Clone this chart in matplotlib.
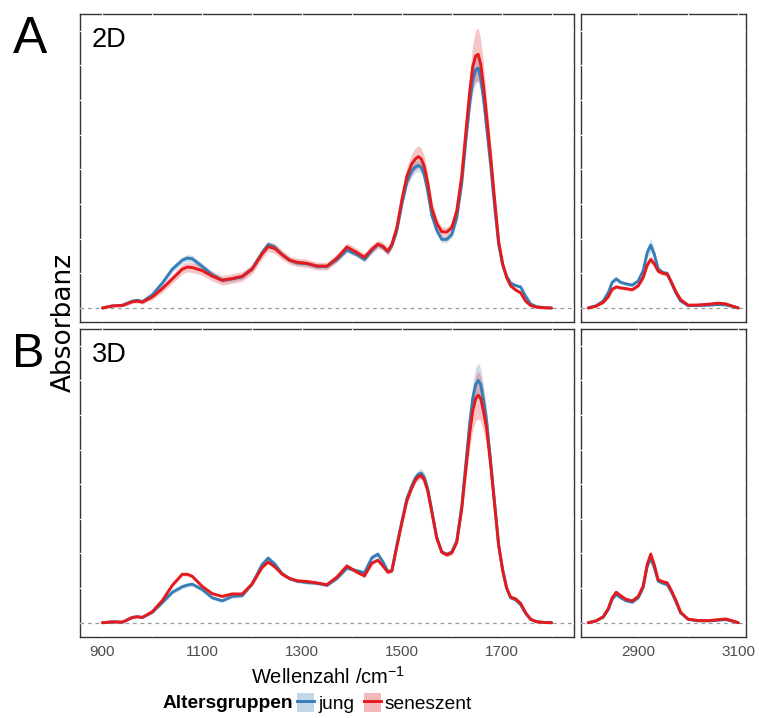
#!/usr/bin/env python3
"""FTIR mean spectra (2D vs 3D culture) for two age groups, with SD ribbons."""

import matplotlib
matplotlib.use("Agg")
import matplotlib.pyplot as plt
from matplotlib.patches import Patch
from matplotlib.lines import Line2D
from matplotlib.legend_handler import HandlerTuple
import numpy as np

# ---------------------------------------------------------------------------
# Data (absorbance, arbitrary units)
# ---------------------------------------------------------------------------

X_FP = [900, 920, 940, 960, 970, 980, 1000, 1020, 1040, 1060,
        1070, 1080, 1100, 1120, 1140, 1160, 1180, 1200, 1220, 1232,
        1245, 1260, 1275, 1290, 1310, 1330, 1350, 1370, 1390, 1410,
        1425, 1440, 1452, 1462, 1472, 1480, 1490, 1500, 1510, 1520,
        1527, 1533, 1539, 1545, 1552, 1560, 1570, 1580, 1590, 1600,
        1610, 1620, 1628, 1636, 1642, 1648, 1653, 1658, 1664, 1670,
        1678, 1686, 1694, 1702, 1710, 1718, 1728, 1738, 1748, 1758,
        1770, 1785, 1800]

X_CH = [2800, 2815, 2830, 2840, 2848, 2856, 2865, 2875, 2888, 2900,
        2910, 2918, 2925, 2932, 2940, 2950, 2958, 2966, 2975, 2985,
        3000, 3020, 3040, 3060, 3075, 3090, 3100]

# --- 2D, fingerprint region
jung_2d_fp = [0.000, 0.015, 0.020, 0.050, 0.056, 0.046, 0.095, 0.180, 0.280, 0.345,
              0.360, 0.355, 0.300, 0.240, 0.200, 0.210, 0.225, 0.285, 0.400, 0.458,
              0.440, 0.385, 0.345, 0.325, 0.320, 0.300, 0.300, 0.350, 0.418, 0.385,
              0.350, 0.415, 0.460, 0.440, 0.405, 0.450, 0.560, 0.750, 0.910, 0.990,
              1.018, 1.028, 1.015, 0.960, 0.840, 0.670, 0.560, 0.495, 0.495, 0.530,
              0.650, 0.900, 1.200, 1.480, 1.640, 1.720, 1.730, 1.660, 1.500, 1.300,
              1.030, 0.730, 0.460, 0.310, 0.230, 0.180, 0.162, 0.152, 0.085, 0.030,
              0.009, 0.002, 0.000]
jung_2d_fp_sd = [0.000, 0.004, 0.005, 0.008, 0.008, 0.008, 0.012, 0.018, 0.022, 0.025,
                 0.025, 0.025, 0.022, 0.020, 0.018, 0.018, 0.018, 0.020, 0.022, 0.022,
                 0.020, 0.018, 0.016, 0.016, 0.016, 0.016, 0.016, 0.016, 0.018, 0.016,
                 0.016, 0.018, 0.020, 0.020, 0.018, 0.020, 0.025, 0.032, 0.038, 0.040,
                 0.042, 0.042, 0.042, 0.040, 0.036, 0.030, 0.025, 0.022, 0.022, 0.024,
                 0.030, 0.045, 0.065, 0.080, 0.092, 0.100, 0.100, 0.095, 0.085, 0.072,
                 0.055, 0.040, 0.025, 0.015, 0.012, 0.010, 0.010, 0.010, 0.006, 0.003,
                 0.002, 0.001, 0.000]
sen_2d_fp = [0.000, 0.015, 0.018, 0.045, 0.050, 0.042, 0.080, 0.140, 0.210, 0.280,
             0.295, 0.292, 0.270, 0.230, 0.200, 0.212, 0.228, 0.280, 0.390, 0.443,
             0.430, 0.385, 0.345, 0.330, 0.322, 0.303, 0.302, 0.360, 0.440, 0.400,
             0.365, 0.425, 0.460, 0.445, 0.410, 0.460, 0.580, 0.780, 0.950, 1.040,
             1.075, 1.092, 1.075, 1.020, 0.900, 0.720, 0.610, 0.550, 0.548, 0.580,
             0.700, 0.950, 1.260, 1.560, 1.740, 1.820, 1.830, 1.760, 1.590, 1.380,
             1.090, 0.780, 0.480, 0.320, 0.220, 0.160, 0.130, 0.110, 0.050, 0.018,
             0.006, 0.002, 0.000]
sen_2d_fp_sd = [0.000, 0.005, 0.008, 0.012, 0.014, 0.014, 0.020, 0.028, 0.032, 0.035,
                0.035, 0.035, 0.035, 0.035, 0.035, 0.035, 0.035, 0.035, 0.035, 0.035,
                0.035, 0.035, 0.030, 0.030, 0.030, 0.028, 0.028, 0.030, 0.030, 0.030,
                0.030, 0.030, 0.030, 0.030, 0.030, 0.032, 0.040, 0.055, 0.068, 0.075,
                0.078, 0.080, 0.078, 0.075, 0.065, 0.050, 0.040, 0.035, 0.035, 0.037,
                0.045, 0.065, 0.090, 0.130, 0.160, 0.185, 0.190, 0.180, 0.155, 0.125,
                0.090, 0.060, 0.035, 0.022, 0.015, 0.012, 0.010, 0.010, 0.006, 0.003,
                0.002, 0.001, 0.000]

# --- 2D, CH stretching region
jung_2d_ch = [0.000, 0.015, 0.050, 0.110, 0.185, 0.210, 0.185, 0.175, 0.165, 0.195,
              0.270, 0.400, 0.453, 0.390, 0.280, 0.255, 0.250, 0.185, 0.110, 0.050,
              0.017, 0.018, 0.020, 0.025, 0.022, 0.010, 0.000]
jung_2d_ch_sd = [0.000, 0.004, 0.008, 0.012, 0.014, 0.016, 0.012, 0.012, 0.012, 0.014,
                 0.022, 0.040, 0.048, 0.035, 0.020, 0.016, 0.016, 0.012, 0.008, 0.005,
                 0.003, 0.003, 0.003, 0.003, 0.003, 0.002, 0.000]
sen_2d_ch = [0.000, 0.012, 0.040, 0.080, 0.135, 0.152, 0.145, 0.140, 0.132, 0.160,
             0.220, 0.310, 0.350, 0.320, 0.265, 0.250, 0.245, 0.190, 0.120, 0.060,
             0.020, 0.022, 0.027, 0.035, 0.030, 0.012, 0.000]
sen_2d_ch_sd = [0.000, 0.004, 0.008, 0.010, 0.012, 0.014, 0.012, 0.012, 0.012, 0.014,
                0.018, 0.024, 0.028, 0.024, 0.018, 0.016, 0.016, 0.014, 0.010, 0.006,
                0.004, 0.004, 0.004, 0.004, 0.004, 0.003, 0.000]

# --- 3D, fingerprint region
jung_3d_fp = [0.000, 0.006, 0.004, 0.038, 0.043, 0.038, 0.075, 0.145, 0.220, 0.260,
              0.272, 0.278, 0.240, 0.180, 0.158, 0.190, 0.195, 0.280, 0.420, 0.467,
              0.425, 0.355, 0.318, 0.300, 0.290, 0.285, 0.270, 0.320, 0.395, 0.375,
              0.360, 0.470, 0.495, 0.440, 0.370, 0.375, 0.560, 0.730, 0.895, 0.990,
              1.045, 1.072, 1.080, 1.050, 0.965, 0.810, 0.615, 0.510, 0.495, 0.510,
              0.590, 0.840, 1.140, 1.440, 1.620, 1.720, 1.750, 1.720, 1.600, 1.450,
              1.160, 0.860, 0.560, 0.380, 0.250, 0.180, 0.165, 0.130, 0.068, 0.024,
              0.007, 0.002, 0.000]
jung_3d_fp_sd = [0.000, 0.003, 0.003, 0.005, 0.005, 0.005, 0.008, 0.012, 0.015, 0.015,
                 0.015, 0.015, 0.015, 0.012, 0.012, 0.012, 0.012, 0.012, 0.015, 0.015,
                 0.015, 0.012, 0.012, 0.012, 0.012, 0.012, 0.012, 0.012, 0.015, 0.015,
                 0.015, 0.018, 0.018, 0.015, 0.012, 0.012, 0.015, 0.022, 0.028, 0.030,
                 0.032, 0.032, 0.032, 0.030, 0.028, 0.025, 0.020, 0.015, 0.015, 0.017,
                 0.022, 0.040, 0.065, 0.095, 0.112, 0.122, 0.125, 0.120, 0.105, 0.090,
                 0.065, 0.040, 0.025, 0.015, 0.012, 0.010, 0.010, 0.010, 0.006, 0.003,
                 0.002, 0.001, 0.000]
sen_3d_fp = [0.000, 0.006, 0.004, 0.038, 0.043, 0.038, 0.080, 0.160, 0.270, 0.350,
             0.350, 0.335, 0.262, 0.210, 0.190, 0.208, 0.207, 0.280, 0.400, 0.438,
             0.405, 0.350, 0.320, 0.303, 0.298, 0.287, 0.275, 0.330, 0.410, 0.365,
             0.338, 0.430, 0.452, 0.410, 0.365, 0.375, 0.550, 0.720, 0.880, 0.975,
             1.030, 1.055, 1.063, 1.030, 0.950, 0.800, 0.610, 0.510, 0.490, 0.505,
             0.580, 0.820, 1.100, 1.370, 1.530, 1.620, 1.643, 1.620, 1.520, 1.400,
             1.140, 0.850, 0.560, 0.380, 0.250, 0.185, 0.172, 0.140, 0.072, 0.025,
             0.007, 0.002, 0.000]
sen_3d_fp_sd = [0.000, 0.003, 0.003, 0.005, 0.005, 0.005, 0.008, 0.010, 0.012, 0.012,
                0.012, 0.012, 0.012, 0.010, 0.010, 0.010, 0.010, 0.010, 0.012, 0.012,
                0.012, 0.010, 0.010, 0.010, 0.010, 0.010, 0.010, 0.010, 0.012, 0.012,
                0.012, 0.012, 0.012, 0.012, 0.012, 0.012, 0.015, 0.018, 0.020, 0.022,
                0.024, 0.025, 0.025, 0.025, 0.024, 0.022, 0.018, 0.015, 0.015, 0.016,
                0.020, 0.040, 0.070, 0.110, 0.140, 0.160, 0.170, 0.165, 0.145, 0.120,
                0.085, 0.055, 0.030, 0.018, 0.014, 0.012, 0.012, 0.010, 0.006, 0.003,
                0.002, 0.001, 0.000]

# --- 3D, CH stretching region
jung_3d_ch = [0.000, 0.012, 0.040, 0.095, 0.170, 0.205, 0.180, 0.160, 0.148, 0.180,
              0.255, 0.410, 0.467, 0.400, 0.300, 0.285, 0.275, 0.225, 0.155, 0.070,
              0.025, 0.013, 0.013, 0.018, 0.022, 0.010, 0.000]
jung_3d_ch_sd = [0.000, 0.003, 0.005, 0.008, 0.010, 0.012, 0.010, 0.010, 0.010, 0.012,
                 0.016, 0.022, 0.026, 0.022, 0.016, 0.014, 0.014, 0.012, 0.010, 0.006,
                 0.003, 0.003, 0.003, 0.003, 0.003, 0.002, 0.000]
sen_3d_ch = [0.000, 0.012, 0.043, 0.100, 0.180, 0.220, 0.195, 0.170, 0.157, 0.190,
             0.265, 0.420, 0.495, 0.420, 0.309, 0.295, 0.288, 0.235, 0.165, 0.075,
             0.025, 0.016, 0.015, 0.022, 0.027, 0.012, 0.000]
sen_3d_ch_sd = [0.000, 0.003, 0.005, 0.008, 0.010, 0.012, 0.010, 0.010, 0.010, 0.012,
                0.016, 0.024, 0.030, 0.024, 0.016, 0.014, 0.014, 0.012, 0.010, 0.006,
                0.003, 0.003, 0.003, 0.003, 0.003, 0.002, 0.000]

GROUPS = ["jung", "seneszent"]
LEGEND_TITLE = "Altersgruppen"

# ---------------------------------------------------------------------------
# Style
# ---------------------------------------------------------------------------

COLOUR = {"jung": "#377EB8", "seneszent": "#E41A1C"}
SANS = ["Liberation Sans", "DejaVu Sans"]

plt.rcParams["font.family"] = SANS
plt.rcParams["mathtext.fontset"] = "custom"
plt.rcParams["mathtext.rm"] = "Liberation Sans"
plt.rcParams["mathtext.it"] = "Liberation Sans:italic"

W, H = 759, 718
fig = plt.figure(figsize=(W / 100, H / 100), dpi=100)
fig.patch.set_facecolor("white")


def px_rect(left, top, right, bottom):
    return [left / W, 1 - bottom / H, (right - left) / W, (bottom - top) / H]


ax_2d_fp = fig.add_axes(px_rect(80, 14, 574, 322))
ax_2d_ch = fig.add_axes(px_rect(580.7, 14, 745.7, 322))
ax_3d_fp = fig.add_axes(px_rect(80, 329, 574, 636.7))
ax_3d_ch = fig.add_axes(px_rect(580.7, 329, 745.7, 636.7))

panels = [
    (ax_2d_fp, X_FP, jung_2d_fp, jung_2d_fp_sd, sen_2d_fp, sen_2d_fp_sd),
    (ax_2d_ch, X_CH, jung_2d_ch, jung_2d_ch_sd, sen_2d_ch, sen_2d_ch_sd),
    (ax_3d_fp, X_FP, jung_3d_fp, jung_3d_fp_sd, sen_3d_fp, sen_3d_fp_sd),
    (ax_3d_ch, X_CH, jung_3d_ch, jung_3d_ch_sd, sen_3d_ch, sen_3d_ch_sd),
]

# shared y scale with ggplot-like 5 % expansion
ymax = max(np.max(np.array(m) + np.array(s))
           for _, _, *series in panels
           for m, s in zip(series[0::2], series[1::2]))
ypad = 0.05 * ymax

for ax, x, j, j_sd, s, s_sd in panels:
    x = np.array(x)
    xpad = 0.05 * (x.max() - x.min())
    ax.set_xlim(x.min() - xpad, x.max() + xpad)
    ax.set_ylim(-ypad, ymax + ypad)

    # white grid that only shows where it crosses the panel border
    if x.max() < 2000:
        gx = np.arange(900, 1801, 100)
        ax.set_xticks([900, 1100, 1300, 1500, 1700])
    else:
        gx = np.arange(2900, 3101, 100)
        ax.set_xticks([2900, 3100])
    for g in gx:
        ax.axvline(g, color="white", lw=0.9, zorder=2.6)
    for g in np.arange(0, 2.01, 0.25):
        ax.axhline(g, color="white", lw=0.9, zorder=2.6)

    ax.axhline(0, color="#9a9a9a", lw=0.9, ls=(0, (3, 3)), zorder=2.7)

    for name, m, sd in (("jung", j, j_sd), ("seneszent", s, s_sd)):
        m, sd = np.array(m), np.array(sd)
        ax.fill_between(x, m - sd, m + sd, color=COLOUR[name], alpha=0.25,
                        lw=0, zorder=3)
    for name, m in (("jung", j), ("seneszent", s)):
        ax.plot(x, m, color=COLOUR[name], lw=2.1, zorder=4,
                solid_joinstyle="round", solid_capstyle="round")

    ax.set_yticks([])
    ax.tick_params(axis="x", length=0, pad=6, labelsize=11, colors="#4D4D4D")
    for sp in ax.spines.values():
        sp.set_color("#333333")
        sp.set_linewidth(1.0)

ax_2d_fp.tick_params(labelbottom=False)
ax_2d_ch.tick_params(labelbottom=False)

ax_2d_fp.text(0.024, 0.894, "2D", transform=ax_2d_fp.transAxes, fontsize=19.5,
              va="baseline", ha="left")
ax_3d_fp.text(0.024, 0.894, "3D", transform=ax_3d_fp.transAxes, fontsize=19.5,
              va="baseline", ha="left")

fig.text(13 / W, 1 - 53 / H, "A", fontsize=37, va="baseline", ha="left")
fig.text(12 / W, 1 - 367 / H, "B", fontsize=35, va="baseline", ha="left")

fig.text(64 / W, 1 - 322.5 / H, "Absorbanz", rotation=90, fontsize=19,
         family=["DejaVu Sans"], va="center", ha="center")
fig.text(328 / W, 1 - 683.5 / H, r"Wellenzahl /cm$^{-1}$", fontsize=14.5,
         va="baseline", ha="center")

# legend: title on the left, keys show ribbon with the line across it
handles = [(Patch(facecolor=COLOUR[g], alpha=0.3, lw=0),
            Line2D([], [], color=COLOUR[g], lw=2.1)) for g in GROUPS]
fig.text(293 / W, 1 - 703 / H, LEGEND_TITLE, fontsize=13.8, fontweight="bold",
         va="center", ha="right")
fig.legend(handles, GROUPS, handler_map={tuple: HandlerTuple(ndivide=1, pad=0)},
           loc="center left", bbox_to_anchor=(297 / W, 1 - 703 / H), ncol=2,
           frameon=False, fontsize=13.8, borderpad=0, borderaxespad=0,
           handlelength=0.9, handleheight=1.15, handletextpad=0.2,
           columnspacing=0.5)

fig.savefig("out.png", dpi=100, facecolor="white")
